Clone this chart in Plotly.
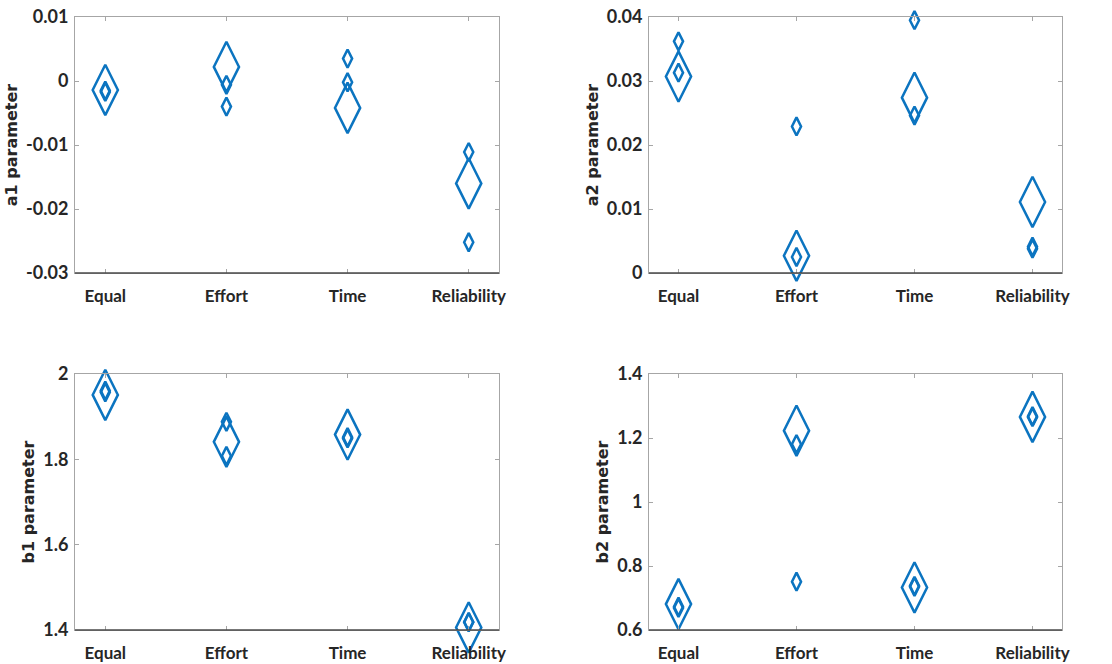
import plotly.graph_objects as go

# Category labels shared by all four panels
categories = ["Equal", "Effort", "Time", "Reliability"]

# a1 parameter: one large estimate and two small estimates per condition
a1_large = [-0.0014, 0.0022, -0.0042, -0.0160]
a1_small_1 = [-0.0015, -0.0006, 0.0035, -0.0111]
a1_small_2 = [-0.0017, -0.0040, -0.0002, -0.0252]

# a2 parameter
a2_large = [0.0307, 0.0027, 0.0274, 0.0111]
a2_small_1 = [0.0362, 0.0229, 0.0395, 0.0041]
a2_small_2 = [0.0313, 0.0025, 0.0246, 0.0038]

# b1 parameter
b1_large = [1.951, 1.841, 1.858, 1.406]
b1_small_1 = [1.961, 1.888, 1.852, 1.419]
b1_small_2 = [1.957, 1.808, 1.849, 1.418]

# b2 parameter
b2_large = [0.681, 1.223, 0.733, 1.266]
b2_small_1 = [0.673, 1.181, 0.738, 1.268]
b2_small_2 = [0.669, 0.751, 0.735, 1.265]

# Y-axis tick values and labels for each panel
a1_ticks = [0.01, 0, -0.01, -0.02, -0.03]
a1_ticktext = ["0.01", "0", "-0.01", "-0.02", "-0.03"]
a2_ticks = [0, 0.01, 0.02, 0.03, 0.04]
a2_ticktext = ["0", "0.01", "0.02", "0.03", "0.04"]
b1_ticks = [1.4, 1.6, 1.8, 2.0]
b1_ticktext = ["1.4", "1.6", "1.8", "2"]
b2_ticks = [0.6, 0.8, 1.0, 1.2, 1.4]
b2_ticktext = ["0.6", "0.8", "1", "1.2", "1.4"]

panels = [
    dict(title="a1 parameter", large=a1_large, smalls=[a1_small_1, a1_small_2],
         ticks=a1_ticks, ticktext=a1_ticktext, yrange=[-0.03, 0.01]),
    dict(title="a2 parameter", large=a2_large, smalls=[a2_small_1, a2_small_2],
         ticks=a2_ticks, ticktext=a2_ticktext, yrange=[0, 0.04]),
    dict(title="b1 parameter", large=b1_large, smalls=[b1_small_1, b1_small_2],
         ticks=b1_ticks, ticktext=b1_ticktext, yrange=[1.4, 2.0]),
    dict(title="b2 parameter", large=b2_large, smalls=[b2_small_1, b2_small_2],
         ticks=b2_ticks, ticktext=b2_ticktext, yrange=[0.6, 1.4]),
]

W, H = 1112, 664
x_domains = [[75 / W, 499 / W], [649 / W, 1062 / W]]
y_domains = [[1 - 273 / H, 1 - 17 / H], [1 - 630 / H, 1 - 374 / H]]

BLUE = "#0b74c0"
TEXT = "#262626"
BOX = "#a6a6a6"
AXIS_DARK = "#4a4a4a"

fig = go.Figure()
layout = dict(
    width=W, height=H,
    margin=dict(l=0, r=0, t=0, b=0, autoexpand=False),
    paper_bgcolor="white", plot_bgcolor="white",
    showlegend=False,
    shapes=[],
)

for i, p in enumerate(panels):
    row, col = divmod(i, 2)
    n = "" if i == 0 else str(i + 1)
    xa, ya = "x" + n, "y" + n

    fig.add_trace(go.Scatter(
        x=categories, y=p["large"], mode="markers", xaxis=xa, yaxis=ya,
        marker=dict(symbol="diamond-tall-open", size=36, color=BLUE,
                    line=dict(width=2.5, color=BLUE)),
        cliponaxis=False, hoverinfo="x+y",
    ))
    for s in p["smalls"]:
        fig.add_trace(go.Scatter(
            x=categories, y=s, mode="markers", xaxis=xa, yaxis=ya,
            marker=dict(symbol="diamond-tall-open", size=13, color=BLUE,
                        line=dict(width=2.5, color=BLUE)),
            cliponaxis=False, hoverinfo="x+y",
        ))

    layout["xaxis" + n] = dict(
        domain=x_domains[col], anchor=ya, automargin=False,
        type="category", categoryorder="array", categoryarray=categories,
        range=[-0.25, 3.25],
        showline=True, linecolor=BOX, linewidth=1, mirror="ticks",
        ticks="inside", ticklen=4, tickcolor=BOX, tickwidth=1,
        showgrid=False, zeroline=False,
        ticklabelstandoff=8,
        tickfont=dict(family="Lato", size=17, color=TEXT, weight="bold"),
    )
    layout["yaxis" + n] = dict(
        domain=y_domains[row], anchor=xa, automargin=False,
        range=p["yrange"], tickvals=p["ticks"], ticktext=p["ticktext"],
        showline=True, linecolor=BOX, linewidth=1, mirror="ticks",
        ticks="inside", ticklen=4, tickcolor=BOX, tickwidth=1,
        showgrid=False, zeroline=False,
        ticklabelstandoff=2,
        tickfont=dict(family="Lato", size=18, color=TEXT, weight="bold"),
        title=dict(text=p["title"], standoff=4,
                   font=dict(family="DejaVu Sans", size=16, color=TEXT, weight="bold")),
    )
    # darker baseline along the bottom of each panel
    layout["shapes"].append(dict(
        type="line", xref=xa + " domain", yref=ya + " domain",
        x0=0, x1=1, y0=0, y1=0, line=dict(color=AXIS_DARK, width=1.5),
    ))

fig.update_layout(**layout)
fig.write_html("out.html")
